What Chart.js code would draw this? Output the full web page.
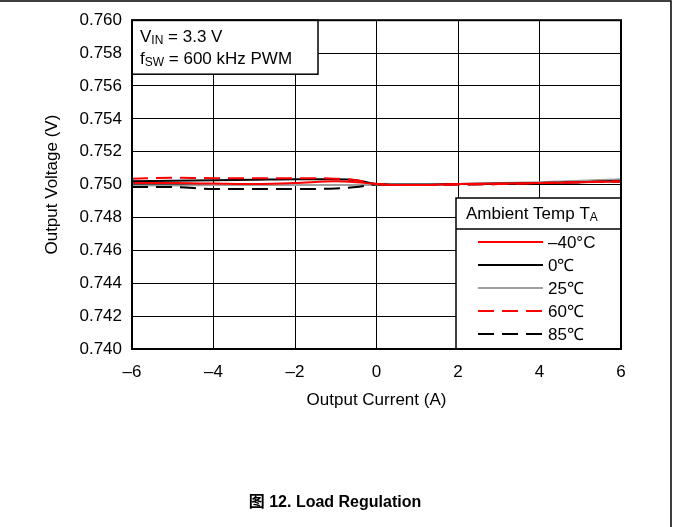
<!DOCTYPE html>
<html>
<head>
<meta charset="utf-8">
<script src="https://cdn.jsdelivr.net/npm/chart.js@4.4.1/dist/chart.umd.min.js"></script>
<style>
    html, body { margin: 0; padding: 0; background: #fff; }
    canvas { display: block; }
</style>
</head>
<body>
<canvas id="chart" width="673" height="527"></canvas>
<script>
// output current (A)
const currents = [-6, -5, -4, -3, -2, -1, -0.5, 0, 0.5, 1, 2, 3, 4, 5, 6];
// output voltage (V) per ambient temperature
const vMinus40 = [0.75009, 0.75009, 0.75006, 0.75003, 0.75009, 0.75021, 0.75015, 0.75003, 0.74997, 0.74997, 0.75003, 0.75006, 0.75009, 0.75015, 0.75018];
const v0 = [0.75021, 0.75024, 0.75027, 0.75030, 0.75033, 0.75033, 0.75027, 0.75003, 0.75000, 0.75000, 0.75003, 0.75006, 0.75009, 0.75015, 0.75024];
const v25 = [0.74994, 0.74994, 0.74997, 0.74997, 0.74997, 0.74997, 0.74997, 0.74997, 0.75000, 0.75000, 0.75003, 0.75009, 0.75015, 0.75024, 0.75033];
const v60 = [0.75036, 0.75042, 0.75039, 0.75039, 0.75039, 0.75036, 0.75027, 0.75003, 0.74997, 0.74997, 0.75000, 0.75003, 0.75009, 0.75015, 0.75021];
const v85 = [0.74985, 0.74985, 0.74973, 0.74973, 0.74973, 0.74976, 0.74985, 0.75000, 0.74997, 0.74997, 0.75000, 0.75003, 0.75009, 0.75015, 0.75018];

const seriesLabels = ['\u201340°C', '0\u2103', '25\u2103', '60\u2103', '85\u2103'];
const seriesColors = ['#ff0000', '#000000', '#a0a0a0', '#ff0000', '#000000'];
const seriesDash = [[], [], [], [16, 8], [16, 8]];
const seriesValues = [vMinus40, v0, v25, v60, v85];

const xTicks = [-6, -4, -2, 0, 2, 4, 6];
const yMin = 0.740, yMax = 0.760, yStep = 0.002;

const FONT = '"Liberation Sans", Arial, sans-serif';

const datasets = seriesValues.map((vals, i) => ({
    label: seriesLabels[i],
    data: currents.map((c, j) => ({ x: c, y: vals[j] })),
    borderColor: seriesColors[i],
    borderDash: seriesDash[i],
    borderWidth: 2,
    pointRadius: 0,
    fill: false,
    cubicInterpolationMode: 'monotone',
}));
// draw order: gray and black under the reds
const drawOrder = [2, 1, 4, 0, 3];
drawOrder.forEach((idx, k) => { datasets[idx].order = 10 - k; });

function subText(ctx, parts, x, y) {
    // parts: [text, isSub]
    let cx = x;
    parts.forEach(([t, sub]) => {
        ctx.font = sub ? '12px ' + FONT : '17px ' + FONT;
        ctx.fillText(t, cx, sub ? y + 4 : y);
        cx += ctx.measureText(t).width;
    });
}

const decor = {
    id: 'decor',
    afterDraw(chart) {
        const { ctx, chartArea: a } = chart;
        ctx.save();
        ctx.textBaseline = 'middle';
        ctx.fillStyle = '#000';

        // condition box
        ctx.fillStyle = '#fff';
        ctx.fillRect(a.left, a.top, 186, 54);
        ctx.strokeStyle = '#000';
        ctx.lineWidth = 1.5;
        ctx.strokeRect(a.left, a.top, 186, 54);
        ctx.fillStyle = '#000';
        ctx.textAlign = 'left';
        subText(ctx, [['V', false], ['IN', true], [' = 3.3 V', false]], 140, 37);
        subText(ctx, [['f', false], ['SW', true], [' = 600 kHz PWM', false]], 140, 59);

        // legend box
        const lx = 456, ly = 198, lw = a.right - lx, lh = a.bottom - ly;
        ctx.fillStyle = '#fff';
        ctx.fillRect(lx, ly, lw, lh);
        ctx.strokeRect(lx, ly, lw, lh);
        ctx.beginPath();
        ctx.moveTo(lx, ly + 31);
        ctx.lineTo(lx + lw, ly + 31);
        ctx.stroke();
        ctx.fillStyle = '#000';
        subText(ctx, [['Ambient Temp T', false], ['A', true]], 466, ly + 16);
        chart.data.datasets.forEach((ds, i) => {
            const y = 242 + i * 23;
            ctx.beginPath();
            ctx.setLineDash(ds.borderDash);
            ctx.strokeStyle = ds.borderColor;
            ctx.lineWidth = 2;
            ctx.moveTo(478, y);
            ctx.lineTo(543, y);
            ctx.stroke();
            ctx.setLineDash([]);
            ctx.font = '17px ' + FONT;
            ctx.fillStyle = '#000';
            ctx.fillText(ds.label, 548, y + 1);
        });

        // plot frame
        ctx.strokeStyle = '#000';
        ctx.lineWidth = 2;
        ctx.strokeRect(a.left, a.top, a.right - a.left, a.bottom - a.top);

        // axis titles
        ctx.font = '17px ' + FONT;
        ctx.textAlign = 'center';
        ctx.fillText('Output Current (A)', (a.left + a.right) / 2, 400);
        ctx.save();
        ctx.translate(52, (a.top + a.bottom) / 2);
        ctx.rotate(-Math.PI / 2);
        ctx.fillText('Output Voltage (V)', 0, 0);
        ctx.restore();

        // caption
        ctx.font = 'bold 16px ' + FONT + ', "Noto Sans CJK SC"';
        ctx.fillText('图 12. Load Regulation', 335, 503);

        // outer frame
        ctx.lineWidth = 1.5;
        ctx.beginPath();
        ctx.moveTo(0, 1);
        ctx.lineTo(671, 1);
        ctx.lineTo(671, 527);
        ctx.stroke();
        ctx.restore();
    },
};

new Chart(document.getElementById('chart').getContext('2d'), {
    type: 'line',
    data: { datasets },
    options: {
        responsive: false,
        animation: false,
        devicePixelRatio: 1,
        layout: { padding: { left: 0, right: 52, top: 18, bottom: 0 } },
        plugins: { legend: { display: false }, tooltip: { enabled: false } },
        scales: {
            x: {
                type: 'linear',
                min: -6,
                max: 6,
                afterFit: (s) => { s.height = 178; },
                afterBuildTicks: (s) => { s.ticks = xTicks.map((v) => ({ value: v })); },
                ticks: {
                    padding: 13,
                    color: '#000',
                    font: { family: FONT, size: 17 },
                    maxRotation: 0,
                    callback: (v) => (v < 0 ? '\u2013' + Math.abs(v) : String(v)),
                },
                grid: { color: '#000', lineWidth: 1, drawTicks: false },
                border: { display: false },
            },
            y: {
                min: yMin,
                max: yMax,
                afterFit: (s) => { s.width = 132; },
                ticks: {
                    stepSize: yStep,
                    padding: 10,
                    color: '#000',
                    font: { family: FONT, size: 17 },
                    callback: (v) => v.toFixed(3),
                },
                grid: { color: '#000', lineWidth: 1, drawTicks: false },
                border: { display: false },
            },
        },
    },
    plugins: [decor],
});
</script>
</body>
</html>
